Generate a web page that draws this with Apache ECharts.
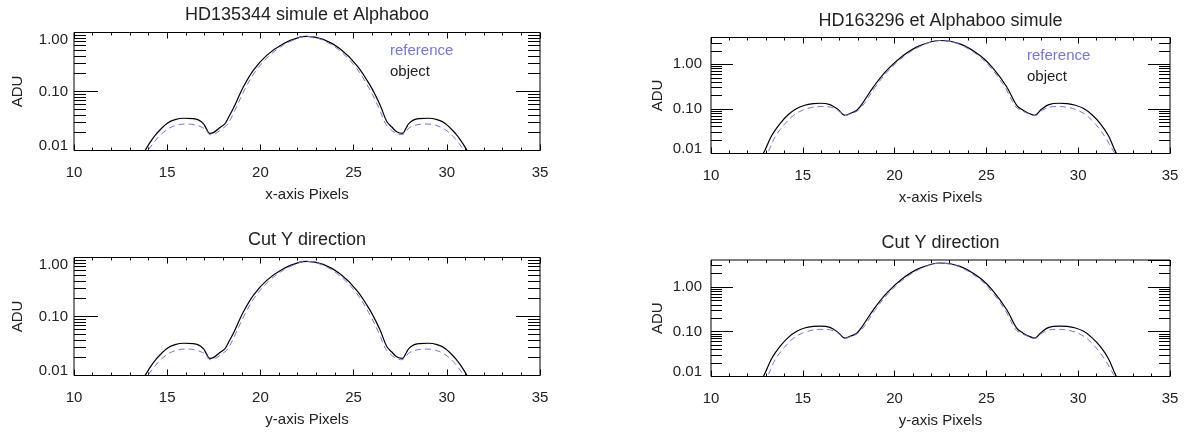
<!DOCTYPE html>
<html><head><meta charset="utf-8">
<script src="https://cdn.jsdelivr.net/npm/echarts@6/dist/echarts.min.js"></script>
<style>html,body{margin:0;padding:0;background:#fff}#c{width:1185px;height:432px}</style>
</head><body><div id="c"></div>
<script>
// ---------------- DATA ----------------
const titles = ['HD135344 simule et Alphaboo', 'HD163296 et Alphaboo simule', 'Cut Y direction', 'Cut Y direction'];
const xAxisNames = ['x-axis Pixels', 'x-axis Pixels', 'y-axis Pixels', 'y-axis Pixels'];
const seriesNames = ['reference', 'object'];

// HD135344 panels (left column): object (solid) and reference (dashed)
const xObjL = [13.5, 13.81, 14.1, 14.44, 14.97, 15.42, 15.9, 16.4, 16.67, 16.94, 17.1, 17.28, 17.5, 17.83, 18.1, 18.3, 18.55, 19.09, 19.62, 20.34, 21.23, 22.12, 22.48, 23.37, 24.27, 25.17, 25.88, 26.42, 26.78, 27.05, 27.31, 27.62, 27.8, 27.96, 28.23, 28.5, 29.0, 29.48, 29.93, 30.46, 30.8, 31.09, 31.4];
const objL = [0.0072, 0.0100, 0.0140, 0.0195, 0.0285, 0.0333, 0.0352, 0.0347, 0.0330, 0.0285, 0.0235, 0.0195, 0.0203, 0.0245, 0.0285, 0.037, 0.052, 0.120, 0.229, 0.41, 0.646, 0.836, 0.86, 0.764, 0.53, 0.278, 0.128, 0.059, 0.031, 0.025, 0.0208, 0.0195, 0.0235, 0.0285, 0.0330, 0.0347, 0.0352, 0.0333, 0.0285, 0.0195, 0.014, 0.010, 0.0072];
const xRefL = [13.7, 13.96, 14.5, 15.0, 15.5, 16.0, 16.5, 16.9, 17.1, 17.3, 17.6, 17.9, 18.2, 18.4, 18.63, 19.17, 19.7, 20.42, 21.3, 22.15, 22.47, 23.32, 24.2, 25.1, 25.8, 26.34, 26.7, 26.95, 27.22, 27.6, 27.8, 28.0, 28.4, 28.9, 29.4, 29.9, 30.4, 30.93, 31.2];
const refL = [0.0075, 0.0100, 0.0165, 0.0228, 0.0268, 0.0281, 0.0272, 0.0245, 0.0218, 0.0185, 0.0195, 0.0228, 0.027, 0.034, 0.048, 0.110, 0.212, 0.39, 0.63, 0.83, 0.86, 0.75, 0.51, 0.262, 0.118, 0.054, 0.029, 0.0235, 0.0200, 0.0185, 0.0210, 0.0245, 0.0272, 0.0281, 0.0268, 0.0228, 0.0165, 0.0100, 0.0075];

// HD163296 panels (right column)
const xObjR = [12.6, 12.85, 13.3, 13.76, 14.2, 14.67, 15.1, 15.57, 15.95, 16.48, 16.9, 17.3, 17.6, 17.94, 18.3, 18.84, 19.57, 20.47, 21.38, 22.47, 23.56, 24.65, 25.38, 26.11, 26.65, 27.0, 27.3, 27.62, 28.0, 28.4, 28.95, 29.4, 29.85, 30.3, 30.75, 31.2, 31.65, 32.08, 32.35];
const objR = [0.0075, 0.0100, 0.025, 0.047, 0.074, 0.102, 0.121, 0.1315, 0.134, 0.125, 0.098, 0.072, 0.080, 0.093, 0.143, 0.309, 0.73, 1.58, 2.63, 3.43, 2.88, 1.58, 0.80, 0.31, 0.12, 0.093, 0.080, 0.072, 0.098, 0.125, 0.134, 0.1315, 0.121, 0.102, 0.074, 0.047, 0.025, 0.0100, 0.0075];
const xRefR = [12.8, 13.07, 13.5, 14.0, 14.5, 15.0, 15.5, 16.0, 16.5, 16.9, 17.3, 17.65, 18.0, 18.38, 18.92, 19.65, 20.55, 21.45, 22.47, 23.5, 24.58, 25.3, 26.03, 26.57, 26.95, 27.3, 27.64, 28.05, 28.45, 28.95, 29.45, 29.95, 30.45, 30.95, 31.45, 32.0, 32.25];
const refR = [0.0075, 0.0100, 0.024, 0.045, 0.072, 0.094, 0.108, 0.113, 0.110, 0.094, 0.071, 0.079, 0.092, 0.138, 0.30, 0.71, 1.55, 2.6, 3.40, 2.85, 1.55, 0.78, 0.30, 0.115, 0.090, 0.078, 0.071, 0.094, 0.110, 0.113, 0.108, 0.094, 0.072, 0.045, 0.024, 0.0100, 0.0075];

// axis ranges and tick values
const xMin = 10, xMax = 35, xStep = 5;
const yMin = 0.01;
const yMaxLeft = 1.0, yMaxRight = 4.0;
const yMinorTickValues = [0.02,0.03,0.04,0.05,0.06,0.07,0.08,0.09,0.2,0.3,0.4,0.5,0.6,0.7,0.8,0.9,2,3,4,5,6,7,8,9];

// ---------------- LAYOUT ----------------
const FONT = '"Liberation Sans", Arial, Helvetica, sans-serif';
const TXT = '#222';
const BLUE = '#7474e6';

const panels = [
  { grid: {left: 74, top: 32.5, width: 466, height: 118}, ymax: yMaxLeft, tick: 24, lblMargin: 6, nameGapY: 49, titlePos: [307, 15], legend: [385, 43], xs: [xObjL, objL, xRefL, refL] },
  { grid: {left: 711, top: 37.5, width: 459, height: 116}, ymax: yMaxRight, tick: 22, lblMargin: 9, nameGapY: 46, titlePos: [940.5, 21], legend: [1022, 48], xs: [xObjR, objR, xRefR, refR] },
  { grid: {left: 74, top: 257.5, width: 466, height: 118}, ymax: yMaxLeft, tick: 24, lblMargin: 6, nameGapY: 49, titlePos: [307, 240], legend: null, xs: [xObjL, objL, xRefL, refL] },
  { grid: {left: 711, top: 260, width: 459, height: 116.5}, ymax: yMaxRight, tick: 22, lblMargin: 9, nameGapY: 46, titlePos: [940.5, 243], legend: null, xs: [xObjR, objR, xRefR, refR] }
];

const zip = (xs, ys) => xs.map((x, i) => [x, ys[i]]);
const lblStyle = { fontSize: 15, color: TXT, fontFamily: FONT };

const option = { animation: false, backgroundColor: '#fff', title: [], legend: [], grid: [], xAxis: [], yAxis: [], series: [] };

panels.forEach((p, i) => {
  option.title.push({ text: titles[i], left: p.titlePos[0], top: p.titlePos[1], textAlign: 'center', textVerticalAlign: 'middle', padding: 0,
    textStyle: { fontSize: 18, fontWeight: 'normal', color: TXT, fontFamily: FONT } });
  if (p.legend) {
    option.legend.push({ left: p.legend[0], top: p.legend[1], orient: 'vertical', itemGap: 6, itemWidth: 0, itemHeight: 0, icon: 'rect', selectedMode: false, padding: 0,
      textStyle: { fontSize: 15, fontFamily: FONT },
      data: [{ name: seriesNames[0], textStyle: { color: BLUE } }, { name: seriesNames[1], textStyle: { color: TXT } }] });
  }
  option.grid.push(Object.assign({ show: true, borderColor: '#000', borderWidth: 1, containLabel: false, outerBoundsMode: 'none' }, p.grid));
  const xBase = { gridIndex: i, type: 'value', min: xMin, max: xMax, interval: xStep,
    axisLine: { show: false, onZero: false }, splitLine: { show: false },
    axisTick: { inside: true, length: 6, lineStyle: { color: '#000' } },
    minorTick: { show: true, splitNumber: 5, length: 3, lineStyle: { color: '#000' } } };
  option.xAxis.push(Object.assign({}, xBase, { position: 'bottom',
    axisLabel: Object.assign({ margin: 15 }, lblStyle),
    name: xAxisNames[i], nameLocation: 'middle', nameGap: 37, nameMoveOverlap: false,
    nameTextStyle: lblStyle }));
  option.xAxis.push(Object.assign({}, xBase, { position: 'top', axisLabel: { show: false } }));

  const logBase = { gridIndex: i, type: 'log', logBase: 10, min: yMin, max: p.ymax,
    axisLine: { show: false, onZero: false }, splitLine: { show: false }, minorTick: { show: false },
    axisTick: { inside: true, length: p.tick, lineStyle: { color: '#000' } } };
  const ymax = p.ymax;
  option.yAxis.push(Object.assign({}, logBase, { position: 'left',
    axisLabel: Object.assign({ margin: p.lblMargin, showMaxLabel: ymax === 1.0,
      formatter: v => {
        const s = Number(v).toFixed(2);
        if (Math.abs(v - yMin) < 1e-9) return '{lo|' + s + '}';
        if (Math.abs(v - ymax) < 1e-9) return '{hi|' + s + '}';
        return s;
      },
      rich: { lo: Object.assign({ padding: [0, 0, 9, 0] }, lblStyle), hi: Object.assign({ padding: [15, 0, 0, 0] }, lblStyle) } }, lblStyle),
    name: 'ADU', nameLocation: 'middle', nameGap: p.nameGapY, nameMoveOverlap: false,
    nameTextStyle: lblStyle }));
  option.yAxis.push(Object.assign({}, logBase, { position: 'right', axisLabel: { show: false } }));

  const minorLog = yMinorTickValues.filter(v => v < ymax).map(v => Math.log10(v));
  const minorBase = { gridIndex: i, type: 'value', min: Math.log10(yMin), max: Math.log10(ymax),
    axisLine: { show: false, onZero: false }, splitLine: { show: false }, axisLabel: { show: false },
    axisTick: { inside: true, length: Math.round(p.tick / 2), customValues: minorLog, lineStyle: { color: '#000' } } };
  option.yAxis.push(Object.assign({}, minorBase, { position: 'left' }));
  option.yAxis.push(Object.assign({}, minorBase, { position: 'right' }));

  option.series.push({ type: 'line', name: seriesNames[0], xAxisIndex: 2 * i, yAxisIndex: 4 * i,
    data: zip(p.xs[2], p.xs[3]), symbol: 'none', smooth: 0.35, clip: true,
    lineStyle: { color: BLUE, width: 1, type: [6, 4] }, itemStyle: { color: BLUE }, z: 3 });
  option.series.push({ type: 'line', name: seriesNames[1], xAxisIndex: 2 * i, yAxisIndex: 4 * i,
    data: zip(p.xs[0], p.xs[1]), symbol: 'none', smooth: 0.35, clip: true,
    lineStyle: { color: '#000', width: 1.2 }, itemStyle: { color: '#000' }, z: 2 });
});

const chart = echarts.init(document.getElementById('c'), null, { renderer: 'canvas' });
chart.setOption(option);
</script></body></html>
